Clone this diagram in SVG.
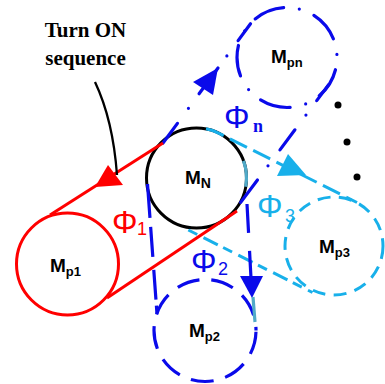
<svg xmlns="http://www.w3.org/2000/svg" width="385" height="384" viewBox="0 0 385 384">
<style>
.lbl{font-family:"Liberation Sans",Arial,sans-serif;font-weight:bold;font-size:19px;fill:#000}
.sub{font-size:13px}
.phi{font-family:"Liberation Sans",Arial,sans-serif;font-size:32px}
.idx{font-family:"Liberation Sans",Arial,sans-serif;font-size:18px}
.blue{stroke:#0a0aea;fill:none;stroke-width:3.2}
.cyan{stroke:#18b0ea;fill:none;stroke-width:3}
.red{stroke:#ff0000;fill:none;stroke-width:3}
</style>
<rect width="385" height="384" fill="#fff"/>

<g id="title">
<text x="85.5" y="37" text-anchor="middle" font-family="'Liberation Serif','Times New Roman',serif" font-weight="bold" font-size="21">Turn ON</text>
<text x="85.5" y="65" text-anchor="middle" font-family="'Liberation Serif','Times New Roman',serif" font-weight="bold" font-size="21">sequence</text>
</g>

<g id="Mp1">
<circle cx="67.5" cy="264" r="51" class="red"/>
<text class="lbl" x="50" y="272">M<tspan class="sub" dy="4">p1</tspan></text>
</g>

<g id="Mp2">
<circle cx="205" cy="330.5" r="51" class="blue" stroke-dasharray="23 12" stroke-dashoffset="33.7"/>
<text class="lbl" x="189" y="337">M<tspan class="sub" dy="4">p2</tspan></text>
</g>

<g id="Mp3">
<circle cx="334" cy="246" r="49" class="cyan" stroke-dasharray="13 8.4"/>
<text class="lbl" x="319" y="253">M<tspan class="sub" dy="4">p3</tspan></text>
</g>

<g id="Mpn">
<circle cx="287" cy="57.5" r="50" class="blue" stroke-linecap="round" stroke-dasharray="31 15.9 0 15.9" stroke-dashoffset="50.4"/>
<text class="lbl" x="271" y="63">M<tspan class="sub" dy="4">pn</tspan></text>
</g>

<g id="MN">
<circle cx="196.5" cy="178" r="50" fill="none" stroke="#000" stroke-width="3"/>
<text class="lbl" x="185" y="184">M<tspan font-size="14" dy="4">N</tspan></text>
</g>

<g id="dots" fill="#000">
<circle cx="338" cy="105" r="3.5"/>
<circle cx="347" cy="142" r="3.5"/>
<circle cx="357" cy="177" r="3.5"/>
</g>

<g id="connectors">
<!-- cyan belt MN - Mp3 -->
<path class="cyan" d="M206,128.8 A50,50 0 0 1 219,133.3 L357,202.5" stroke-dasharray="19 7"/>
<path class="cyan" d="M188.3,230 L312.5,292.5" stroke-dasharray="10 7 16 6"/>
<path d="M243.5,160.9 A50,50 0 0 1 245.7,186.7" fill="none" stroke="#50aac8" stroke-width="3.2"/>
<polygon points="277,176 306,175 288,154" fill="#18b0ea"/>

<!-- blue belt MN - Mp2 -->
<line class="blue" x1="147.5" y1="184" x2="157" y2="314" stroke-dasharray="34 9 30 13 30 6 8 100"/>
<line class="blue" x1="247" y1="204" x2="251" y2="278" stroke-dasharray="29 18 100"/>
<polygon points="240,276 263,276 252,298" fill="#0a0aea"/>
<line x1="253" y1="297" x2="255" y2="322" stroke="#50aac8" stroke-width="3.2"/>

<!-- blue dash-dot belt MN - Mpn -->
<line class="blue" stroke-linecap="round" x1="163" y1="143" x2="250.5" y2="23.7" stroke-dasharray="24.4 18.6 0 18 32 15 0 19 21 100"/>
<line class="blue" stroke-linecap="round" x1="240.7" y1="202.4" x2="328.7" y2="84.6" stroke-dasharray="28 17.6 0 20 25 18.4 0 18 20 100"/>
<polygon points="193,82 218,68 213,95" fill="#0a0aea"/>

<!-- red belt MN - Mp1 -->
<line class="red" x1="50" y1="215" x2="163" y2="143"/>
<line class="red" x1="107" y1="298" x2="237" y2="211"/>
<polygon points="95,187 108,165 123,185" fill="#ff0000"/>

<!-- pointer from title -->
<path d="M95,82 Q113,120 117,175" fill="none" stroke="#000" stroke-width="2.3"/>
</g>

<g id="labels">
<text class="phi" x="112" y="233" fill="#ff0000">Φ</text>
<text class="idx" x="137" y="235" fill="#ff0000">1</text>
<text class="phi" x="191" y="272" fill="#0a0aea">Φ</text>
<text class="idx" x="218" y="275" fill="#0a0aea">2</text>
<text class="phi" x="257" y="217" fill="#18b0ea">Φ</text>
<text class="idx" x="285" y="222" fill="#18b0ea">3</text>
<text class="phi" x="224" y="128" fill="#0a0aea">Φ</text>
<text x="253" y="132" fill="#0a0aea" font-family="'Liberation Serif','Times New Roman',serif" font-weight="bold" font-size="18">n</text>
</g>
</svg>
